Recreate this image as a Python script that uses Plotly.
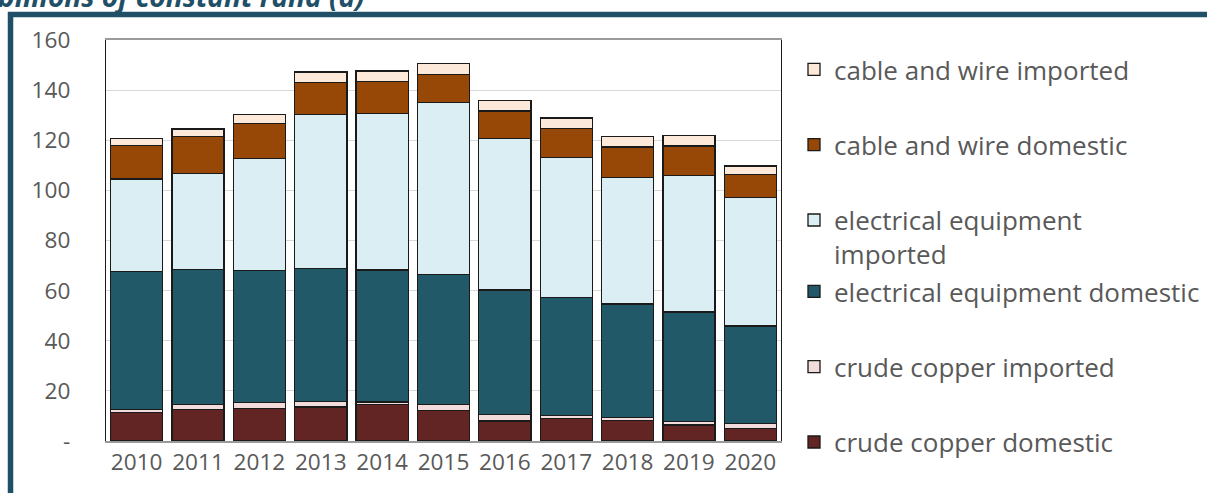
import plotly.graph_objects as go

years = ["2010", "2011", "2012", "2013", "2014", "2015", "2016", "2017", "2018", "2019", "2020"]

crude_copper_domestic = [11.5, 12.6, 13.0, 13.6, 14.5, 12.1, 8.0, 9.1, 8.3, 6.4, 5.1]
crude_copper_imported = [1.1, 2.0, 2.4, 2.1, 1.1, 2.4, 2.5, 1.2, 1.0, 1.3, 2.0]
electrical_equipment_domestic = [55.1, 53.9, 52.7, 53.2, 52.6, 52.0, 49.8, 47.0, 45.4, 43.8, 38.8]
electrical_equipment_imported = [36.8, 38.3, 44.7, 61.5, 62.6, 68.7, 60.5, 55.9, 50.5, 54.5, 51.3]
cable_and_wire_domestic = [13.3, 14.6, 13.8, 12.7, 12.6, 11.1, 10.9, 11.6, 12.1, 11.7, 9.2]
cable_and_wire_imported = [3.0, 3.1, 3.8, 4.1, 4.2, 4.3, 4.1, 4.1, 4.1, 4.1, 3.3]

y_tickvals = [0, 20, 40, 60, 80, 100, 120, 140, 160]
y_ticktext = ["-", "20", "40", "60", "80", "100", "120", "140", "160"]

title_text = "billions of constant rand (a)"

series = [
    ("crude copper domestic", crude_copper_domestic, "#632523", "legend2", 3),
    ("crude copper imported", crude_copper_imported, "#F2DCDB", "legend2", 2),
    ("electrical equipment domestic", electrical_equipment_domestic, "#215968", "legend2", 1),
    ("electrical equipment<br>imported", electrical_equipment_imported, "#DAEEF3", "legend", 3),
    ("cable and wire domestic", cable_and_wire_domestic, "#974706", "legend", 2),
    ("cable and wire imported", cable_and_wire_imported, "#FDE9D9", "legend", 1),
]

W, H = 1207, 493
# plot area in window pixels
L, R, T, B = 106, 781, 40, 441

fig = go.Figure()
for name, vals, col, lg, rank in series:
    fig.add_trace(go.Bar(
        x=years, y=vals, name=name,
        marker=dict(color=col, line=dict(color="#1a1a1a", width=1.3)),
        legend=lg, legendgroup=name, legendrank=rank,
    ))

FONT = "Open Sans"
GRAY = "#595959"

def px2paper_x(px):
    return (px - L) / (R - L)

def px2paper_y(py):
    return (B - py) / (B - T)

def cont_x(px):
    return px / W

def cont_y(py):
    return 1 - py / H

legend_common = dict(
    xref="container", yref="container", xanchor="left", yanchor="top",
    traceorder="grouped", tracegroupgap=38.5, valign="top",
    font=dict(family=FONT, size=26, color=GRAY),
    bgcolor="rgba(0,0,0,0)", itemclick=False, itemdoubleclick=False,
)

fig.update_layout(
    width=W, height=H,
    margin=dict(l=L, r=W - R, t=T, b=H - B, pad=0),
    barmode="stack", bargap=0.15,
    paper_bgcolor="white", plot_bgcolor="white",
    showlegend=True,
    legend=dict(x=cont_x(794), y=cont_y(46), **legend_common),
    legend2=dict(x=cont_x(794), y=cont_y(268), **legend_common),
    xaxis=dict(
        showgrid=False, showline=True, linecolor="#9a9a9a", linewidth=1.5, mirror=True,
        ticks="", tickfont=dict(family=FONT, size=22.6, color=GRAY),
        fixedrange=True,
    ),
    yaxis=dict(
        range=[0, 160], tickvals=y_tickvals, ticktext=y_ticktext,
        showgrid=True, gridcolor="#D9D9D9", gridwidth=1,
        showline=True, linecolor="#1a1a1a", linewidth=1.3, mirror=True,
        ticks="", ticklabelstandoff=30,
        tickfont=dict(family=FONT, size=22.6, color=GRAY),
        zeroline=False, fixedrange=True,
    ),
    font=dict(family=FONT, color=GRAY),
)

# Outer frame (dark blue)
x_left = px2paper_x(10.5)
y_top = px2paper_y(14.5)
x_right = px2paper_x(1215)
y_bot = px2paper_y(505)
fig.add_shape(type="path", xref="paper", yref="paper",
              path=f"M {x_left},{y_bot} L {x_left},{y_top} L {x_right},{y_top}",
              line=dict(color="#1F5068", width=5.5), layer="above")

# Cut-off title at top
fig.add_annotation(text=f"<b><i>{title_text}</i></b>", xref="paper", yref="paper",
                   x=px2paper_x(-4), y=px2paper_y(-4), xanchor="left", yanchor="middle",
                   showarrow=False, font=dict(family=FONT, size=28, color="#1F5068"))

fig.write_html("out.html", config={"displayModeBar": False},
               post_script="document.body.style.margin='0';")
